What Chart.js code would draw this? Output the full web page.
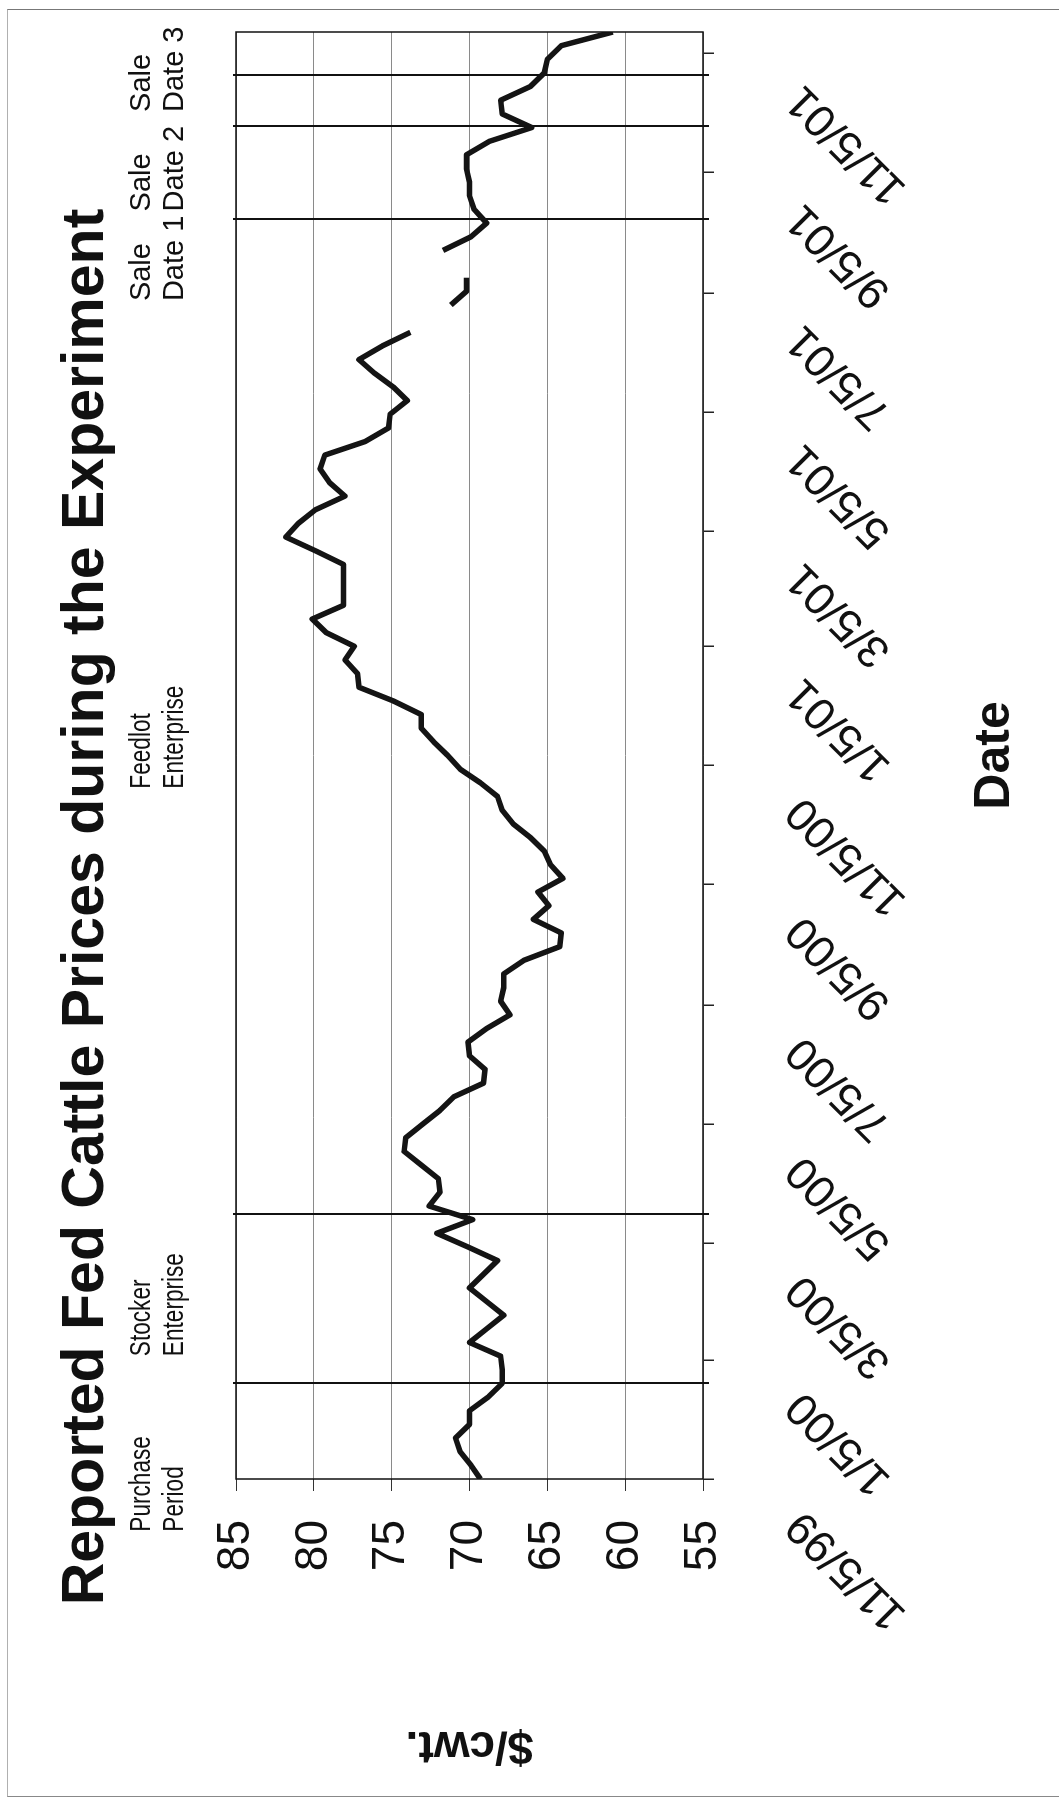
<!DOCTYPE html>
<html>
<head>
<meta charset="utf-8">
<script src="https://cdn.jsdelivr.net/npm/chart.js@4.4.1/dist/chart.umd.min.js"></script>
<style>
  html, body { margin: 0; padding: 0; background: #fff; }
  body { width: 1059px; height: 1802px; position: relative; overflow: hidden; }
  #sheet { position: absolute; left: 7px; top: 9px; width: 1052px; height: 1788px; box-sizing: border-box;
           border-top: 1px solid #777; border-left: 1px solid #b0b0b0; border-bottom: 1px solid #888; }
  /* the chart is laid out landscape and turned a quarter turn onto the portrait page */
  #turn { position: absolute; left: 0; top: 0; width: 1802px; height: 1059px;
          transform-origin: 0 0; transform: translate(0, 1802px) rotate(-90deg); }
  canvas { display: block; }
</style>
</head>
<body>
<div id="sheet"></div>
<div id="turn"><canvas id="c" width="1802" height="1059"></canvas></div>
<script>
// Weekly reported fed cattle prices ($/cwt.), 11/5/99 - 11/16/01
const weekDates = [
  '1999-11-05','1999-11-12','1999-11-19','1999-11-26','1999-12-03','1999-12-10','1999-12-17','1999-12-24','1999-12-31',
  '2000-01-07','2000-01-14','2000-01-21','2000-01-28','2000-02-04','2000-02-11','2000-02-18','2000-02-25',
  '2000-03-03','2000-03-10','2000-03-17','2000-03-24','2000-03-31','2000-04-07','2000-04-14','2000-04-21','2000-04-28',
  '2000-05-05','2000-05-12','2000-05-19','2000-05-26','2000-06-02','2000-06-09','2000-06-16','2000-06-23','2000-06-30',
  '2000-07-07','2000-07-14','2000-07-21','2000-07-28','2000-08-04','2000-08-11','2000-08-18','2000-08-25',
  '2000-09-01','2000-09-08','2000-09-15','2000-09-22','2000-09-29','2000-10-06','2000-10-13','2000-10-20','2000-10-27',
  '2000-11-03','2000-11-10','2000-11-17','2000-11-24','2000-12-01','2000-12-08','2000-12-15','2000-12-22','2000-12-29',
  '2001-01-05','2001-01-12','2001-01-19','2001-01-26','2001-02-02','2001-02-09','2001-02-16','2001-02-23',
  '2001-03-02','2001-03-09','2001-03-16','2001-03-23','2001-03-30','2001-04-06','2001-04-13','2001-04-20','2001-04-27',
  '2001-05-04','2001-05-11','2001-05-18','2001-05-25','2001-06-01','2001-06-08','2001-06-15','2001-06-22','2001-06-29',
  '2001-07-06','2001-07-13','2001-07-20','2001-07-27','2001-08-03','2001-08-10','2001-08-17','2001-08-24','2001-08-31',
  '2001-09-07','2001-09-14','2001-09-21','2001-09-28','2001-10-05','2001-10-12','2001-10-19','2001-10-26',
  '2001-11-02','2001-11-09','2001-11-16'
];
const prices = [
  69.3, 69.9, 70.6, 70.9, 70.0, 70.0, 68.8, 67.9, 67.9,
  68.0, 70.0, 68.9, 67.8, 68.9, 70.0, 69.1, 68.2,
  70.1, 72.1, 69.8, 72.6, 71.9, 72.0, 73.1, 74.2, 74.1,
  73.0, 71.9, 71.0, 69.1, 69.0, 70.0, 70.1, 68.9, 67.4,
  68.0, 67.8, 67.8, 66.5, 64.2, 64.1, 65.9, 64.9,
  65.6, 64.0, 64.8, 65.2, 66.1, 67.2, 67.9, 68.2, 69.3,
  70.6, 71.4, 72.3, 73.1, 73.1, 74.9, 77.1, 77.2, 78.0,
  77.4, 79.2, 80.1, 78.1, 78.1, 78.1, 78.1, 79.9,
  81.8, 81.0, 79.9, 78.0, 79.0, 79.6, 79.3, 76.7, 75.2,
  75.1, 74.0, 74.9, 76.1, 77.1, 75.6, 73.8, null, 71.2,
  70.2, 70.2, null, 71.7, 69.9, 68.9, 69.7, 70.0, 70.0,
  70.2, 70.2, 68.7, 66.0, 67.9, 68.0, 66.1, 65.2,
  65.0, 64.1, 60.8
];
const tickDates = ['1999-11-05','2000-01-05','2000-03-05','2000-05-05','2000-07-05','2000-09-05','2000-11-05',
                   '2001-01-05','2001-03-05','2001-05-05','2001-07-05','2001-09-05','2001-11-05'];
const tickLabels = ['11/5/99','1/5/00','3/5/00','5/5/00','7/5/00','9/5/00','11/5/00',
                    '1/5/01','3/5/01','5/5/01','7/5/01','9/5/01','11/5/01'];
const priceTicks = [55, 60, 65, 70, 75, 80, 85];
// boundaries: end of purchase, end of stocker phase, sale dates 1-3
const periodDates = ['1999-12-24','2000-03-20','2001-08-12','2001-09-29','2001-10-25'];
const periodNotes = [['Purchase','Period'], ['Stocker','Enterprise'], ['Feedlot','Enterprise'],
                     ['Sale','Date 1'], ['Sale','Date 2'], ['Sale','Date 3']];

const FONT = '"Liberation Sans", Arial, Helvetica, sans-serif';
const DAY = 86400000;
const ORIGIN = Date.UTC(1999, 10, 5);
const dayOf = s => { const [y, m, d] = s.split('-').map(Number); return (Date.UTC(y, m - 1, d) - ORIGIN) / DAY; };

const decor = {
  id: 'decor',
  beforeDatasetsDraw(chart, args, opts) {
    const { ctx, chartArea: a, scales: { x } } = chart;
    ctx.save();
    ctx.strokeStyle = '#111';
    ctx.lineWidth = 2;
    periodDates.forEach(s => {
      const px = Math.round(x.getPixelForValue(dayOf(s)));
      ctx.beginPath();
      ctx.moveTo(px, a.top - 3);
      ctx.lineTo(px, a.bottom + 6);
      ctx.stroke();
    });
    ctx.restore();
  },
  afterDraw(chart, args, opts) {
    const { ctx, chartArea: a, scales: { x } } = chart;
    ctx.save();
    // plot frame
    ctx.strokeStyle = '#111';
    ctx.lineWidth = 1.5;
    ctx.strokeRect(a.left, a.top, a.right - a.left, a.bottom - a.top);
    // chart title
    ctx.fillStyle = '#111';
    ctx.font = 'bold ' + opts.titleSize + 'px ' + FONT;
    ctx.textAlign = 'center';
    ctx.textBaseline = 'alphabetic';
    ctx.fillText(opts.title, opts.titleX, opts.titleBaseline);
    // period notes above the plot (the enterprise notes are set condensed)
    ctx.textAlign = 'left';
    ctx.font = opts.noteSize + 'px ' + FONT;
    periodNotes.forEach((lines, i) => {
      const px = x.getPixelForValue(dayOf(opts.noteAt[i]));
      lines.forEach((t, j) => {
        ctx.save();
        ctx.translate(px, opts.noteBaselines[j]);
        ctx.scale(opts.noteStretch[i], 1);
        ctx.fillText(t, 0, 0);
        ctx.restore();
      });
    });
    ctx.restore();
  }
};

new Chart(document.getElementById('c'), {
  type: 'line',
  data: {
    datasets: [{
      data: weekDates.map((d, i) => ({ x: dayOf(d), y: prices[i] })),
      borderColor: '#141414',
      borderWidth: 5.5,
      pointRadius: 0,
      tension: 0,
      spanGaps: false,
      borderJoinStyle: 'round',
      borderCapStyle: 'butt'
    }]
  },
  options: {
    responsive: false,
    animation: false,
    devicePixelRatio: 1,
    layout: { padding: { top: 236, right: 32, left: 0, bottom: 0 } },
    plugins: {
      legend: { display: false },
      tooltip: { enabled: false },
      title: { display: false },
      decor: {
        title: 'Reported Fed Cattle Prices during the Experiment',
        titleSize: 59, titleX: 895, titleBaseline: 103,
        noteSize: 29, noteBaselines: [150, 183],
        noteStretch: [0.78, 0.78, 0.78, 1, 1, 1],
        noteAt: ['1999-10-09', '2000-01-07', '2000-10-24', '2001-07-01', '2001-08-16', '2001-10-06']
      }
    },
    scales: {
      x: {
        type: 'linear',
        min: 0,
        max: dayOf('2001-11-16'),
        afterBuildTicks: s => { s.ticks = tickDates.map(d => ({ value: dayOf(d) })); },
        afterFit: s => { s.height = 356; s.paddingLeft = 0; s.paddingRight = 0; },
        border: { display: false },
        grid: { drawOnChartArea: false, drawTicks: true, tickLength: 11, color: '#222', lineWidth: 1.5 },
        ticks: {
          autoSkip: false, minRotation: 45, maxRotation: 45,
          padding: 62, labelOffset: -39,
          color: '#111', font: { family: FONT, size: 45 },
          callback: (v, i) => tickLabels[i]
        },
        title: {
          display: true, text: 'Date', color: '#111',
          font: { family: FONT, size: 50, weight: 'bold' },
          padding: { top: 0, bottom: 34 }
        }
      },
      y: {
        min: 55,
        max: 85,
        afterBuildTicks: s => { s.ticks = priceTicks.map(v => ({ value: v })); },
        afterFit: s => { s.width = 323; s.paddingTop = 0; s.paddingBottom = 0; },
        border: { display: false },
        grid: { color: '#8a8a8a', lineWidth: 1, tickLength: 12, tickColor: '#333' },
        ticks: { padding: 29, color: '#111', font: { family: FONT, size: 46 }, callback: v => String(v) },
        title: {
          display: true, text: '$/cwt.', color: '#111',
          font: { family: FONT, size: 46, weight: 'bold' },
          padding: { top: 30, bottom: 0 }
        }
      }
    }
  },
  plugins: [decor]
});
</script>
</body>
</html>
